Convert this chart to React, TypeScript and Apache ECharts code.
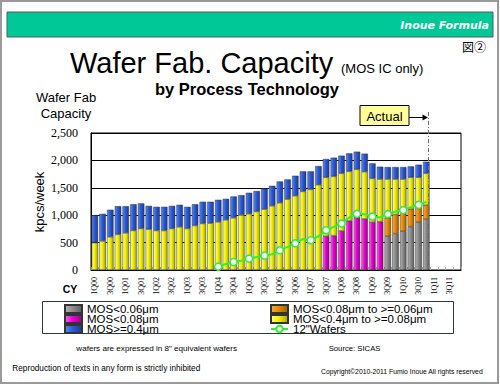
import React, { useEffect, useRef } from 'react';
import * as echarts from 'echarts';

const categories = [
  '1Q00','2Q00','3Q00','4Q00','1Q01','2Q01','3Q01','4Q01','1Q02','2Q02','3Q02','4Q02',
  '1Q03','2Q03','3Q03','4Q03','1Q04','2Q04','3Q04','4Q04','1Q05','2Q05','3Q05','4Q05',
  '1Q06','2Q06','3Q06','4Q06','1Q07','2Q07','3Q07','4Q07','1Q08','2Q08','3Q08','4Q08',
  '1Q09','2Q09','3Q09','4Q09','1Q10','2Q10','3Q10','4Q10','1Q11','2Q11','3Q11','4Q11',
];

const seriesNames = [
  'MOS<0.06μm',
  'MOS<0.08μm to >=0.06μm',
  'MOS<0.08μm',
  'MOS<0.4μm to >=0.08μm',
  'MOS>=0.4μm',
  '12"Wafers',
];

const n = null;

const mos006 = [
  n,n,n,n,n,n,n,n,n,n,n,n,n,n,n,n,n,n,n,n,n,n,n,n,n,n,n,n,n,n,n,n,n,n,n,n,n,n,
  616,665,708,793,872,927,
];

const mos006to008 = [
  n,n,n,n,n,n,n,n,n,n,n,n,n,n,n,n,n,n,n,n,n,n,n,n,n,n,n,n,n,n,n,n,n,n,n,n,n,n,
  336,348,353,317,275,256,
];

const mos008 = [
  n,n,n,n,n,n,n,n,n,n,n,n,n,n,n,n,n,n,n,n,n,n,n,n,n,n,n,n,n,n,
  616,628,714,897,964,933,872,884,
  n,n,n,n,n,n,
];

const mos008to04 = [
  500,530,605,650,677,720,756,744,720,720,756,787,756,811,848,854,
  878,915,952,1006,1025,1067,1110,1171,1226,1293,1354,1433,1470,1555,
  1074,1080,1049,903,872,860,799,775,707,646,598,580,543,580,
];

const mos04 = [
  500,495,495,515,488,480,459,426,433,433,414,403,397,389,397,391,
  403,384,390,360,384,373,378,366,390,360,366,367,330,342,
  335,342,323,329,323,330,275,226,220,220,220,201,232,213,
];

const wafers12 = [
  n,n,n,n,n,n,n,n,n,n,n,n,n,n,n,n,
  61,110,146,171,207,238,262,287,360,421,488,567,543,616,726,787,
  848,958,1025,1019,976,958,1019,1067,1092,1147,1190,1244,
];

const yTicks = { min: 0, max: 2500, interval: 500 };
const lastActual = '4Q10';

export default function App() {
  const ref = useRef<HTMLDivElement>(null);

  useEffect(() => {
    document.body.style.margin = '0';
    const chart = echarts.init(ref.current as HTMLDivElement, null, { renderer: 'svg' });

    const grad = (a: string, b: string, c: string) =>
      new echarts.graphic.LinearGradient(0, 0, 1, 0, [
        { offset: 0, color: a },
        { offset: 0.45, color: b },
        { offset: 1, color: c },
      ]);

    const fills = [
      grad('#b4b4b4', '#8c8c8c', '#5c5c5c'),
      grad('#f6ac48', '#e88a00', '#a45c00'),
      grad('#ff66f0', '#e800d0', '#a00090'),
      grad('#ffff88', '#f2f200', '#a8a800'),
      grad('#5c8af2', '#2a5ad8', '#1a3a98'),
    ];

    const barData = [mos006, mos006to008, mos008, mos008to04, mos04];

    const sans = 'Liberation Sans';

    const baseGraphic: any[] = [
      { type: 'rect', id: 'frame', shape: { x: 1, y: 1, width: 497, height: 382 }, style: { fill: 'none', stroke: '#9a9a9a', lineWidth: 2 } },
      { type: 'rect', id: 'header', shape: { x: 7, y: 12, width: 486, height: 25 }, style: { fill: '#00c896', stroke: '#5a5a5a', lineWidth: 1 } },
      { type: 'text', id: 'brand', x: 489, y: 25, style: { text: 'Inoue Formula', fill: '#fff', fontFamily: 'DejaVu Sans', fontWeight: 'bold', fontStyle: 'italic', fontSize: 11, align: 'right', verticalAlign: 'middle' } },
      { type: 'text', id: 'fig', x: 486, y: 46, style: { text: '図②', fill: '#000', fontFamily: 'Noto Sans CJK JP', fontSize: 12, align: 'right', verticalAlign: 'middle' } },
      { type: 'text', id: 'title', x: 70, y: 62.5, style: { text: 'Wafer Fab. Capacity', fill: '#000', fontFamily: sans, fontSize: 29, align: 'left', verticalAlign: 'middle' } },
      { type: 'text', id: 'sub1', x: 341, y: 68, style: { text: '(MOS IC only)', fill: '#000', fontFamily: sans, fontSize: 13, align: 'left', verticalAlign: 'middle' } },
      { type: 'text', id: 'sub2', x: 247, y: 88.5, style: { text: 'by Process Technology', fill: '#000', fontFamily: sans, fontWeight: 'bold', fontSize: 16.5, align: 'center', verticalAlign: 'middle' } },
      { type: 'text', id: 'yn1', x: 66, y: 97, style: { text: 'Wafer Fab', fill: '#000', fontFamily: sans, fontSize: 13, align: 'center', verticalAlign: 'middle' } },
      { type: 'text', id: 'yn2', x: 66, y: 113.3, style: { text: 'Capacity', fill: '#000', fontFamily: sans, fontSize: 13, align: 'center', verticalAlign: 'middle' } },
      { type: 'text', id: 'yunit', x: 39, y: 202, rotation: Math.PI / 2, style: { text: 'kpcs/week', fill: '#000', fontFamily: sans, fontSize: 13, align: 'center', verticalAlign: 'middle' } },
      { type: 'text', id: 'cy', x: 70, y: 288.7, style: { text: 'CY', fill: '#000', fontFamily: sans, fontWeight: 'bold', fontSize: 10.5, align: 'center', verticalAlign: 'middle' } },
      { type: 'rect', id: 'legbox', shape: { x: 42.5, y: 301.5, width: 411, height: 32 }, style: { fill: '#fff', stroke: '#2a3a3a', lineWidth: 1 } },
      { type: 'text', id: 'f1', x: 76.3, y: 348.2, style: { text: 'wafers are expressed in 8" equivalent wafers', fill: '#000', fontFamily: sans, fontSize: 8.1, align: 'left', verticalAlign: 'middle' } },
      { type: 'text', id: 'f2', x: 328.7, y: 348, style: { text: 'Source: SICAS', fill: '#000', fontFamily: sans, fontSize: 7.7, align: 'left', verticalAlign: 'middle' } },
      { type: 'text', id: 'f3', x: 12.3, y: 368.6, style: { text: 'Reproduction of texts in any form is strictly inhibited', fill: '#000', fontFamily: sans, fontSize: 8.25, align: 'left', verticalAlign: 'middle' } },
      { type: 'text', id: 'f4', x: 321, y: 371, style: { text: 'Copyright©2010-2011 Fumio Inoue All rights reserved', fill: '#000', fontFamily: sans, fontSize: 6.8, align: 'left', verticalAlign: 'middle' } },
    ];

    const legendText = { fontFamily: sans, fontSize: 11.5, color: '#000', lineHeight: 10 };

    const buildOption = (extra: any[]) => ({
      animation: false,
      backgroundColor: '#fff',
      grid: { left: 91, right: 39, top: 133, bottom: 115, show: true, borderColor: '#000', borderWidth: 1 },
      xAxis: {
        type: 'category',
        data: categories,
        axisLine: { lineStyle: { color: '#000', width: 1 } },
        axisTick: { show: true, inside: true, length: 3, interval: 0, lineStyle: { color: '#aaa' } },
        axisLabel: { interval: 1, rotate: 90, fontSize: 8, fontFamily: 'Liberation Serif', color: '#000', margin: 7 },
      },
      yAxis: {
        type: 'value',
        min: yTicks.min,
        max: yTicks.max,
        interval: yTicks.interval,
        axisLine: { show: true, lineStyle: { color: '#000' } },
        axisTick: { show: false },
        splitLine: { lineStyle: { color: '#000', width: 1 } },
        axisLabel: {
          fontFamily: 'Liberation Serif',
          fontSize: 12,
          color: '#000',
          margin: 13,
          formatter: (v: number) => v.toLocaleString('en-US'),
        },
      },
      legend: [
        {
          left: 64, top: 303, padding: 0, orient: 'vertical', itemWidth: 17, itemHeight: 8, itemGap: -2,
          textStyle: legendText, selectedMode: false,
          data: [
            { name: seriesNames[0], icon: 'rect' },
            { name: seriesNames[2], icon: 'rect' },
            { name: seriesNames[4], icon: 'rect' },
          ],
        },
        {
          left: 270, top: 303, padding: 0, orient: 'vertical', itemWidth: 17, itemHeight: 8, itemGap: -2,
          textStyle: legendText, selectedMode: false,
          data: [
            { name: seriesNames[1], icon: 'rect' },
            { name: seriesNames[3], icon: 'rect' },
            { name: seriesNames[5] },
          ],
        },
      ],
      series: [
        ...barData.map((d, i) => ({
          name: seriesNames[i],
          type: 'bar',
          stack: 'capacity',
          barWidth: 6.5,
          data: d,
          itemStyle: { color: fills[i], borderColor: '#333', borderWidth: 0.5 },
        })),
        {
          name: seriesNames[5],
          type: 'line',
          data: wafers12,
          z: 5,
          symbol: 'circle',
          symbolSize: 7,
          lineStyle: { color: '#33ee33', width: 2 },
          itemStyle: { color: '#fff', borderColor: '#33ee33', borderWidth: 1.5 },
        },
      ],
      graphic: { elements: [...baseGraphic, ...extra] },
    });

    chart.setOption(buildOption([]));

    const px = chart.convertToPixel({ xAxisIndex: 0 }, lastActual) as number;
    const lx = Math.round(px + 1.8) + 0.5;
    const y0 = chart.convertToPixel({ yAxisIndex: 0 }, 0) as number;
    const markers = [
      { type: 'line', id: 'actline', shape: { x1: lx, y1: 112, x2: lx, y2: y0 }, style: { stroke: '#707070', lineWidth: 1, lineDash: [4, 2, 1, 2] }, z: 10 },
      { type: 'rect', id: 'actbox', shape: { x: lx - 68.5, y: 105.5, width: 49, height: 20 }, style: { fill: '#ffff99', stroke: '#000', lineWidth: 1 }, z: 10 },
      { type: 'text', id: 'acttext', x: lx - 44, y: 116, style: { text: 'Actual', fill: '#000', fontFamily: sans, fontSize: 13, align: 'center', verticalAlign: 'middle' }, z: 11 },
      { type: 'line', id: 'actarrow', shape: { x1: lx - 19.5, y1: 117.5, x2: lx - 4, y2: 117.5 }, style: { stroke: '#000', lineWidth: 1 }, z: 10 },
      { type: 'polygon', id: 'acthead', shape: { points: [[lx - 6, 114.5], [lx - 0.5, 117.5], [lx - 6, 120.5]] }, style: { fill: '#000' }, z: 10 },
    ];

    chart.setOption(buildOption(markers), { notMerge: true });

    return () => {
      chart.dispose();
    };
  }, []);

  return <div ref={ref} style={{ width: 500, height: 385 }} />;
}
